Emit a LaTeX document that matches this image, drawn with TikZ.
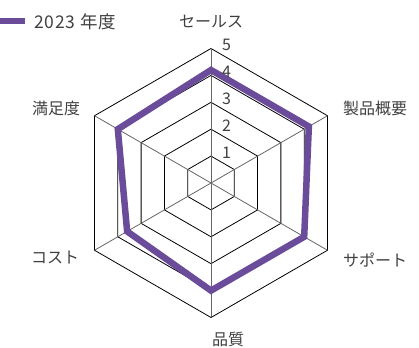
\documentclass[tikz,border=0pt]{standalone}
\usepackage{fontspec}
\setmainfont{Noto Sans CJK JP}
\usetikzlibrary{calc}
\definecolor{seriescol}{RGB}{107,76,154}
\definecolor{txt}{RGB}{64,64,64}
\newcommand{\rstep}{26.9}
\begin{document}
\begin{tikzpicture}[x=1pt,y=1pt,
  lbl/.style={font=\fontsize{16}{18}\selectfont, text=txt, inner sep=0pt},
  leglbl/.style={font=\fontsize{17.5}{20}\selectfont, text=txt, inner sep=0pt, anchor=west},
  numlbl/.style={font=\fontsize{16}{18}\selectfont, text=txt, inner sep=0pt, anchor=west},
  gridline/.style={draw=black, line width=0.8pt},
  axisline/.style={draw=gray!80!black, line width=0.8pt},
  seriesline/.style={draw=seriescol, line width=6.5pt, line join=miter}]
\useasboundingbox (0,0) rectangle (419,347);
\coordinate (C) at (211,164);
% grid hexagons
\foreach \k in {1,...,5}{
  \draw[gridline] ([shift={(90:\k*\rstep)}]C) -- ([shift={(30:\k*\rstep)}]C) -- ([shift={(-30:\k*\rstep)}]C) -- ([shift={(-90:\k*\rstep)}]C) -- ([shift={(210:\k*\rstep)}]C) -- ([shift={(150:\k*\rstep)}]C) -- cycle;
}
% axes
\foreach \a/\n in {90/a1,30/a2,-30/a3,-90/a4,210/a5,150/a6}{
  \coordinate (\n) at ([shift={(\a:5*\rstep)}]C);
  \draw[axisline] (C) -- (\n);
}
% series
\draw[seriesline] ([shift={(90:4.2*\rstep)}]C) -- ([shift={(30:4.2*\rstep)}]C) -- ([shift={(-30:4*\rstep)}]C) -- ([shift={(-90:4*\rstep)}]C) -- ([shift={(210:3.6*\rstep)}]C) -- ([shift={(150:4*\rstep)}]C) -- cycle;
% scale numbers
\foreach \k in {1,...,5}{
  \node[numlbl] (n\k) at (222,{164+\k*\rstep+3.3}) {\k};
}
% category labels
\node[lbl] (l1) at (211,325) {セールス};
\node[lbl] (l2) at (375,239) {製品概要};
\node[lbl] (l3) at (375,87) {サポート};
\node[lbl] (l4) at (228,8) {品質};
\node[lbl] (l5) at (55,89) {コスト};
\node[lbl] (l6) at (56,239) {満足度};
% legend
\fill[seriescol] (0,323) rectangle (25,329);
\node[leglbl] (leg) at (34,325.5) {\addfontfeature{LetterSpace=4}2023\hspace{0.3em}年度};
\end{tikzpicture}
\end{document}
